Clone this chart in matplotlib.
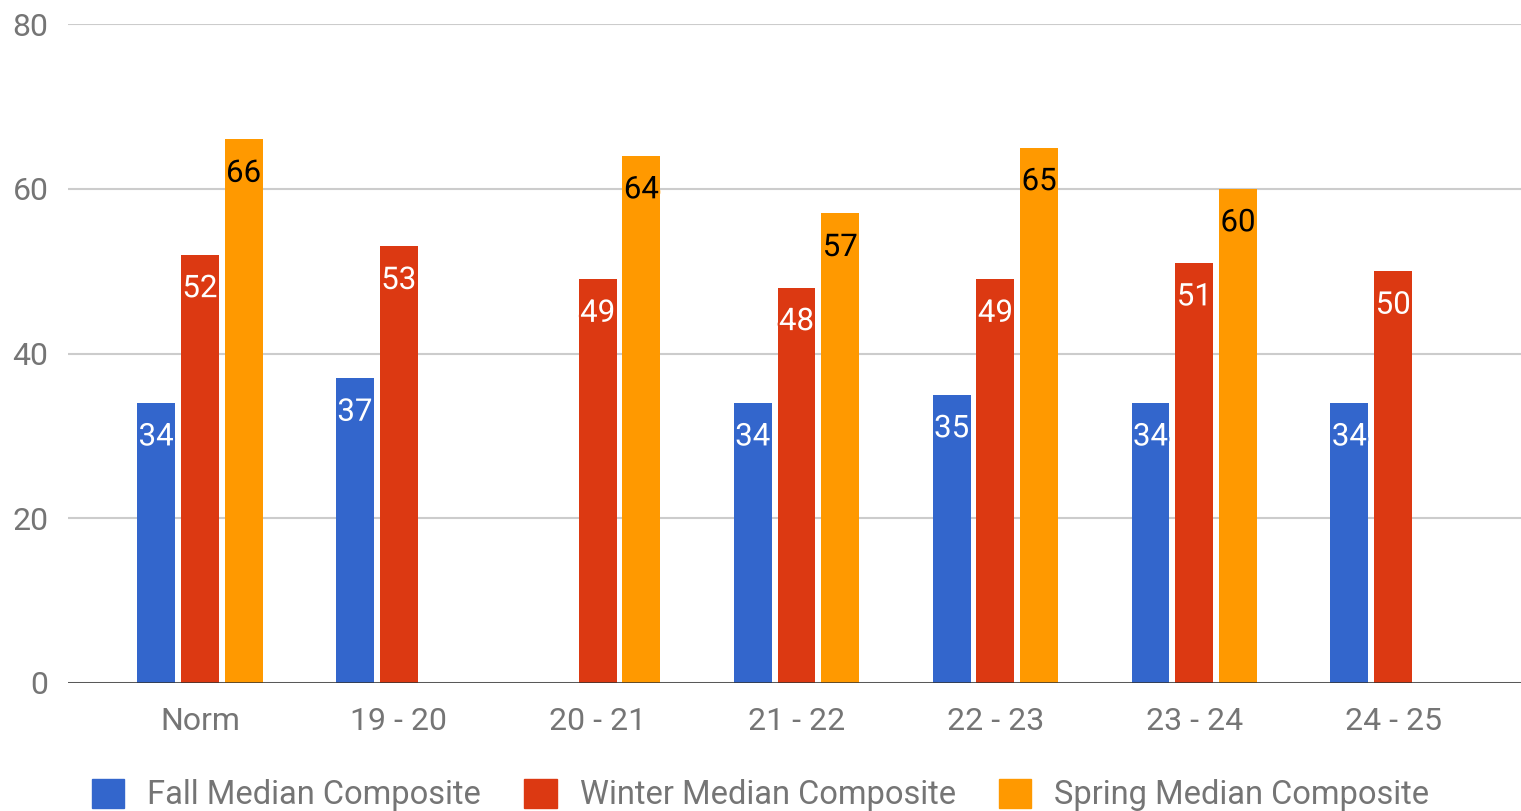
import matplotlib

matplotlib.use("Agg")
import matplotlib.pyplot as plt
import matplotlib.patheffects as pe
import numpy as np
from matplotlib.patches import Patch

plt.rcParams["font.family"] = ["Roboto", "DejaVu Sans"]

categories = ["Norm", "19 - 20", "20 - 21", "21 - 22", "22 - 23", "23 - 24", "24 - 25"]
series_names = ["Fall Median Composite", "Winter Median Composite", "Spring Median Composite"]
fall = [34, 37, None, 34, 35, 34, 34]
winter = [52, 53, 49, 48, 49, 51, 50]
spring = [66, None, 64, 57, 65, 60, None]

colors = ["#3366CC", "#DC3912", "#FF9900"]
label_colors = ["white", "white", "black"]
text_gray = "#757575"

fig = plt.figure(figsize=(15.21, 8.11), dpi=100)
ax = fig.add_axes([68 / 1521, 128 / 811, 1 - 68 / 1521, (683 - 24) / 811])

x = np.arange(len(categories))
width = 0.19
offsets = [-0.22, 0.0, 0.22]

for series, off, col, lcol in zip([fall, winter, spring], offsets, colors, label_colors):
    for xi, v in zip(x, series):
        if v is None:
            continue
        ax.bar(xi + off, v, width=width, color=col, zorder=3)
        ax.annotate(
            str(v), (xi + off, v), xytext=(0, -24.5), textcoords="offset points",
            ha="center", va="center", fontsize=22.5, color=lcol, zorder=4,
            path_effects=[pe.withStroke(linewidth=3, foreground=col)],
        )

ax.set_xlim(-0.663, 6.643)
ax.set_ylim(0, 80)
ax.set_yticks([0, 20, 40, 60, 80])
ax.set_xticks(x)
ax.set_xticklabels(categories)
ax.tick_params(axis="both", length=0, labelsize=23, colors=text_gray)
ax.tick_params(axis="x", pad=17)
ax.tick_params(axis="y", pad=14)
ax.grid(axis="y", color="#cccccc", linewidth=1.5, zorder=0)
ax.set_axisbelow(True)
for s in ["top", "right", "left", "bottom"]:
    ax.spines[s].set_visible(False)
ax.axhline(0, color="#333333", linewidth=1.8, zorder=5)

handles = [Patch(facecolor=c, edgecolor=c) for c in colors]
fig.legend(
    handles, series_names, loc="center", bbox_to_anchor=(0.5, 16 / 811),
    ncol=3, frameon=False, fontsize=23.5, labelcolor=text_gray,
    handlelength=1.0, handleheight=1.0, handletextpad=0.7, columnspacing=1.32,
)

fig.savefig("out.png", dpi=100)
